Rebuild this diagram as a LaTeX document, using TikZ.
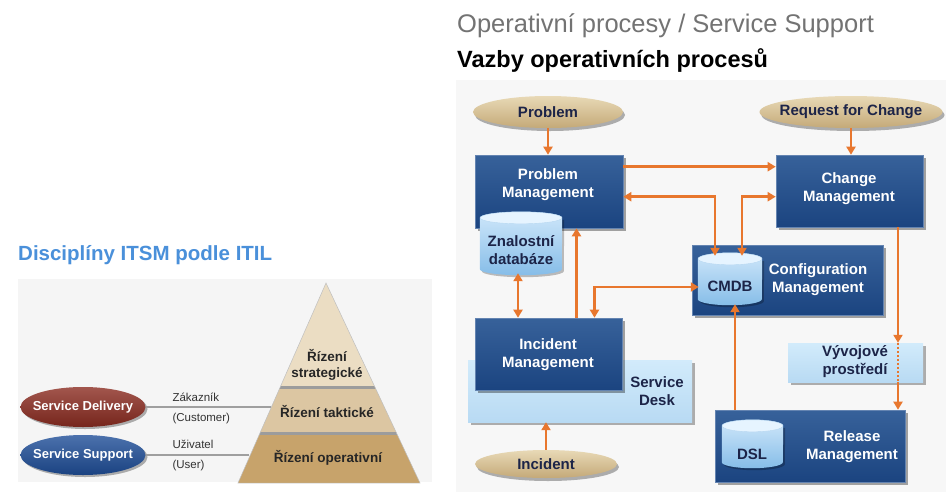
\documentclass[tikz,border=0pt]{standalone}
\usepackage{fontspec}
\setmainfont{Liberation Sans}
\usetikzlibrary{arrows.meta,shapes.geometric,shadows,calc}
\definecolor{boxblue}{HTML}{21508F}
\definecolor{boxblueB}{HTML}{1B4480}
\definecolor{lightA}{HTML}{D2EBFB}
\definecolor{lightB}{HTML}{B8DAF3}
\definecolor{cylTop}{HTML}{E6F4FF}
\definecolor{cylA}{HTML}{CFE7FA}
\definecolor{cylB}{HTML}{86BDE8}
\definecolor{tanA}{HTML}{E8D9B6}
\definecolor{tanB}{HTML}{C4A978}
\definecolor{arrowc}{HTML}{E8772E}
\definecolor{navy}{HTML}{1C2448}
\definecolor{titleblue}{HTML}{4A90DA}
\definecolor{tierA}{HTML}{EBDDC3}
\definecolor{tierB}{HTML}{DCC6A2}
\definecolor{tierC}{HTML}{C7A36B}
\definecolor{sep}{HTML}{9C9C9C}
\definecolor{redov}{HTML}{8B2C21}
\definecolor{blueov}{HTML}{1F4E98}
\tikzset{
  x=1pt,y=-1pt,
  darkbox/.style={rectangle, inner sep=0pt, top color=boxblue!90!white, bottom color=boxblueB,
     draw=boxblue!70!white, line width=0.6pt,
     drop shadow={shadow xshift=3pt, shadow yshift=-3pt, opacity=0.35, fill=black}},
  lightbox/.style={rectangle, inner sep=0pt, top color=lightA, bottom color=lightB,
     drop shadow={shadow xshift=3pt, shadow yshift=-3pt, opacity=0.3, fill=black}},
  tanell/.style={ellipse, inner sep=0pt, top color=tanA, bottom color=tanB,
     drop shadow={shadow xshift=2pt, shadow yshift=-3pt, opacity=0.3, fill=black}},
  boxtext/.style={align=center, text=white, font=\fontsize{15}{18}\selectfont\bfseries},
  navytext/.style={align=center, text=navy, font=\fontsize{15}{18}\selectfont\bfseries},
  tip/.tip={Triangle[length=8pt,width=9pt]},
  arr/.style={draw=arrowc, line width=2.6pt, -tip},
  arrb/.style={draw=arrowc, line width=2.6pt, tip-tip},
  lnk/.style={draw=gray!75, line width=1.3pt},
  ovl/.style={ellipse, inner sep=0pt, minimum width=125pt, minimum height=40pt,
     drop shadow={shadow xshift=2pt, shadow yshift=-2pt, opacity=0.3, fill=black}},
  ovltext/.style={text=white, font=\fontsize{13}{15}\selectfont\bfseries},
  tiertext/.style={align=center, text=black!85, font=\fontsize{13.5}{16}\selectfont\bfseries},
  smalltext/.style={anchor=west, text=black!80, font=\fontsize{11.5}{13}\selectfont}
}
\newcommand{\dbcyl}[5]{%
  \node[minimum width=#4pt, minimum height=#5pt, inner sep=0pt] (#1) at (#2,#3) {};
  \path[fill=black, opacity=0.25] ($(#1.north west)+(2pt,-8pt)$) -- ($(#1.south west)+(2pt,4pt)$)
     arc[start angle=180, end angle=360, x radius=0.5*#4pt, y radius=6pt]
     -- ($(#1.north east)+(2pt,-8pt)$) -- cycle;
  \shade[top color=cylA, bottom color=cylB] ($(#1.north west)+(0pt,-6pt)$) -- ($(#1.south west)+(0pt,6pt)$)
     arc[start angle=180, end angle=360, x radius=0.5*#4pt, y radius=6pt]
     -- ($(#1.north east)+(0pt,-6pt)$)
     arc[start angle=0, end angle=180, x radius=0.5*#4pt, y radius=6pt] -- cycle;
  \fill[cylTop, draw=cylB!60!white, line width=0.4pt] ($(#1.north)+(0pt,-6pt)$) ellipse[x radius=0.5*#4pt, y radius=6pt];
}
\begin{document}
\begin{tikzpicture}
\useasboundingbox (0,0) rectangle (946,496);
\fill[white] (0,0) rectangle (946,496);

% ---------- left part ----------
\node[anchor=base west, text=titleblue, font=\fontsize{20.5}{24}\selectfont\bfseries, inner sep=0pt] (ltitle) at (18,260) {Disciplíny ITSM podle ITIL};
\fill[black!4] (18,279) rectangle (432,482);

\begin{scope}
  \clip (326,283) -- (238,483) -- (420,483) -- cycle;
  \fill[tierA] (200,270) rectangle (460,386);
  \fill[sep] (200,386) rectangle (460,389);
  \fill[tierB] (200,389) rectangle (460,432);
  \fill[sep] (200,432) rectangle (460,435);
  \fill[tierC] (200,435) rectangle (460,483);
\end{scope}
\draw[black!25, line width=0.5pt] (326,283) -- (238,483) -- (420,483) -- cycle;

\node[tiertext] (tstrat) at (327,365) {Řízení\\strategické};
\node[tiertext] (ttakt) at (327,412) {Řízení taktické};
\node[tiertext] (toper) at (328,458) {Řízení operativní};

\coordinate (pmid) at (271,407);
\coordinate (pbot) at (249,455);

\node[ovl, top color=redov!80!white, bottom color=redov!85!black] (sdel) at (83,407) {};
\node[ovltext] (sdeltxt) at (83,407) {Service Delivery};
\node[ovl, top color=blueov!80!white, bottom color=blueov!85!black] (ssup) at (83,455) {};
\node[ovltext] (ssuptxt) at (83,455) {Service Support};
\draw[lnk] (sdel.east) -- (pmid);
\draw[lnk] (ssup.east) -- (pbot);

\node[smalltext] (lz) at (169,397) {Zákazník};
\node[smalltext] (lc) at (169,419) {(Customer)};
\node[smalltext] (lu) at (169,444) {Uživatel};
\node[smalltext] (lus) at (169,466) {(User)};

% ---------- right part ----------
\node[anchor=base west, text=black!55, font=\fontsize{25.5}{30}\selectfont, inner sep=0pt] (rtitle) at (457,32) {Operativní procesy / Service Support};
\node[anchor=base west, text=black, font=\fontsize{23.5}{28}\selectfont\bfseries, inner sep=0pt] (rsub) at (457,67) {Vazby operativních procesů};

\fill[black!3] (456,80) rectangle (946,492);

% light boxes
\node[lightbox, minimum width=224pt, minimum height=62pt] (sdesk) at (580,391) {};
\node[navytext] (sdesktxt) at (657,391) {Service\\Desk};
\node[lightbox, minimum width=135pt, minimum height=39pt] (vyv) at (855.5,362.5) {};
\node[navytext] (vyvtxt) at (855,362) {Vývojové\\prostředí};

% ellipses
\node[tanell, minimum width=150pt, minimum height=32pt] (prob) at (548,112) {};
\node[navytext] (probtxt) at (548,112) {Problem};
\node[tanell, minimum width=183pt, minimum height=32pt] (rfc) at (851,112) {};
\node[navytext] (rfctxt) at (851,112) {Request for Change};
\node[tanell, minimum width=142pt, minimum height=28pt] (inc) at (546,464) {};
\node[navytext] (inctxt) at (546,464) {Incident};

% dark boxes
\node[darkbox, minimum width=148pt, minimum height=73pt] (pm) at (549,191.5) {};
\node[boxtext] (pmtxt) at (548,185) {Problem\\Management};
\node[darkbox, minimum width=147pt, minimum height=72pt] (chm) at (849.5,191) {};
\node[boxtext] (chmtxt) at (849,189) {Change\\Management};
\node[darkbox, minimum width=191pt, minimum height=70pt] (cfg) at (787.5,280) {};
\node[boxtext] (cfgtxt) at (818,280) {Configuration\\Management};
\node[darkbox, minimum width=147pt, minimum height=72pt] (im) at (548.5,354) {};
\node[boxtext] (imtxt) at (548,355) {Incident\\Management};
\node[darkbox, minimum width=190pt, minimum height=72pt] (rel) at (810,446) {};
\node[boxtext] (reltxt) at (852,447) {Release\\Management};

% cylinders
\dbcyl{zn}{521}{243.5}{82}{63}
\node[navytext] (zntxt) at (521,250) {Znalostní\\databáze};
\dbcyl{cmdb}{730}{279}{64}{52}
\node[navytext] (cmdbtxt) at (730,286) {CMDB};
\dbcyl{dsl}{752.5}{444}{61}{48}
\node[navytext] (dsltxt) at (752,454) {DSL};

% arrows
\draw[arr] (prob.south) -- (prob.south |- pm.north);
\draw[arr] (rfc.south) -- (rfc.south |- chm.north);
\draw[arr] ([yshift=-12pt]pm.north east) -- ([yshift=-12pt]chm.north west);
\draw[arrb] ([yshift=-42pt]pm.north east) -| ([xshift=-15pt,yshift=-3pt]cmdb.north);
\draw[arrb] ([xshift=12pt,yshift=-3pt]cmdb.north) |- ([yshift=-42pt]chm.north west);
\draw[arrb] ([xshift=-3pt,yshift=2pt]zn.south) -- ([xshift=-3pt]zn.south |- im.north);
\draw[arr] ([xshift=28pt]im.north) -- ([xshift=28pt]im.north |- pm.south);
\draw[arrb] ([yshift=-8pt,xshift=1pt]cmdb.west) -| ([xshift=46pt]im.north);
\draw[arr] ([xshift=-75pt]rel.north) -- ([xshift=-75pt,yshift=1pt]rel.north |- cmdb.south);
\draw[arr] ([xshift=48.5pt]chm.south) -- ([xshift=48.5pt]chm.south |- vyv.north);
\draw[draw=arrowc, line width=2pt, dotted] ([xshift=48.5pt]chm.south |- vyv.north) -- ([xshift=48.5pt]chm.south |- vyv.south);
\draw[arr] ([xshift=48.5pt]chm.south |- vyv.south) -- ([xshift=48.5pt]chm.south |- rel.north);
\draw[arr] (inc.north) -- (inc.north |- sdesk.south);
\end{tikzpicture}
\end{document}
